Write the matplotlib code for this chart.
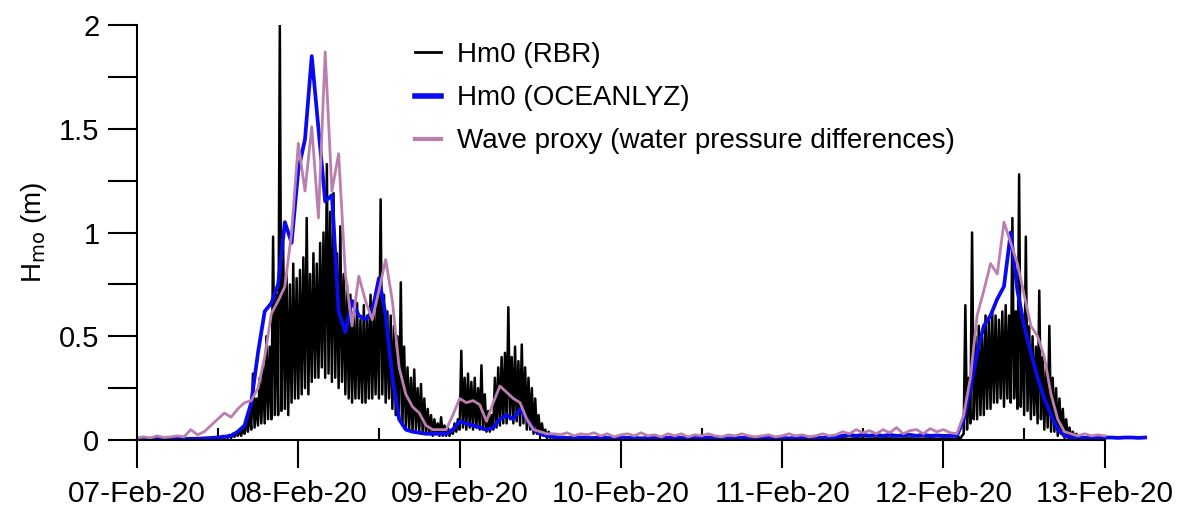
import numpy as np
import pandas as pd
import matplotlib
matplotlib.use('Agg')
import matplotlib.pyplot as plt
import matplotlib.dates as mdates

plt.rcParams['font.family'] = ['Liberation Sans', 'DejaVu Sans']

start = pd.Timestamp('2020-02-07 00:00')

# Hm0 (OCEANLYZ), hourly from 07-Feb 00:00
oceanlyz = [
    0.005, 0.005, 0.004, 0.005, 0.005, 0.006, 0.005, 0.005, 0.006, 0.006,
    0.008, 0.01, 0.012, 0.015, 0.02, 0.04, 0.07, 0.18, 0.42, 0.62,
    0.66, 0.75, 1.05, 0.95, 1.3, 1.45, 1.85, 1.5, 1.15, 1.18,
    0.62, 0.52, 0.67, 0.6, 0.58, 0.62, 0.78, 0.6, 0.3, 0.1,
    0.05, 0.04, 0.035, 0.03, 0.03, 0.03, 0.03, 0.05, 0.09, 0.08,
    0.07, 0.06, 0.05, 0.06, 0.1, 0.12, 0.1, 0.15, 0.1, 0.05,
    0.03, 0.02, 0.015, 0.012, 0.01, 0.01, 0.012, 0.01, 0.01, 0.012,
    0.01, 0.01, 0.012, 0.01, 0.01, 0.008, 0.01, 0.012, 0.01, 0.01,
    0.012, 0.01, 0.008, 0.01, 0.01, 0.012, 0.01, 0.01, 0.008, 0.01,
    0.01, 0.012, 0.01, 0.01, 0.012, 0.01, 0.01, 0.008, 0.01, 0.01,
    0.012, 0.01, 0.01, 0.012, 0.015, 0.02, 0.025, 0.02, 0.025, 0.02,
    0.025, 0.02, 0.025, 0.02, 0.022, 0.025, 0.02, 0.025, 0.02, 0.022,
    0.02, 0.02, 0.02, 0.1, 0.25, 0.42, 0.55, 0.6, 0.68, 0.74,
    1.0, 0.72, 0.55, 0.42, 0.3, 0.2, 0.12, 0.05, 0.02, 0.012,
    0.012, 0.01, 0.012, 0.01, 0.012, 0.012, 0.01, 0.012, 0.012, 0.01, 0.012,
]

# wave proxy (water pressure differences), hourly from 07-Feb 00:00
proxy = [
    0.01, 0.015, 0.01, 0.02, 0.012, 0.015, 0.02, 0.015, 0.05, 0.025,
    0.04, 0.07, 0.1, 0.13, 0.11, 0.15, 0.18, 0.19, 0.25, 0.4,
    0.61, 0.67, 0.74, 1.0, 1.43, 1.2, 1.51, 1.07, 1.87, 1.2,
    1.38, 0.8, 0.55, 0.79, 0.67, 0.58, 0.72, 0.87, 0.67, 0.35,
    0.22, 0.16, 0.13, 0.07, 0.05, 0.05, 0.05, 0.12, 0.2, 0.18,
    0.19, 0.17, 0.09, 0.18, 0.26, 0.23, 0.2, 0.18, 0.1, 0.05,
    0.04, 0.03, 0.03, 0.025, 0.035, 0.02, 0.03, 0.025, 0.035, 0.02,
    0.03, 0.015, 0.025, 0.03, 0.02, 0.035, 0.02, 0.025, 0.015, 0.03,
    0.02, 0.03, 0.015, 0.025, 0.02, 0.03, 0.02, 0.015, 0.025, 0.02,
    0.03, 0.02, 0.015, 0.02, 0.025, 0.015, 0.02, 0.03, 0.02, 0.025,
    0.015, 0.02, 0.03, 0.02, 0.025, 0.04, 0.03, 0.05, 0.035, 0.045,
    0.03, 0.05, 0.035, 0.06, 0.03, 0.045, 0.05, 0.03, 0.055, 0.04,
    0.05, 0.035, 0.03, 0.12, 0.3, 0.6, 0.72, 0.85, 0.8, 1.05,
    0.95, 0.85, 0.7, 0.55, 0.5, 0.4, 0.22, 0.1, 0.04, 0.03,
    0.02, 0.03, 0.02, 0.025, 0.02,
]

# Hm0 (RBR): hourly while calm, 15-min samples during the storms
rbr_calm1 = [0.005, 0.004, 0.006, 0.005, 0.005, 0.006, 0.005, 0.004, 0.006, 0.005, 0.006, 0.005]

rbr_storm1 = [  # 07-Feb 12:00 -> 09-Feb 13:45, 4 per hour
    0.005, 0.015, 0.008, 0.02,  0.01, 0.02, 0.01, 0.025,  0.01, 0.03, 0.015, 0.035,
    0.02, 0.05, 0.02, 0.06,  0.03, 0.1, 0.04, 0.14,  0.05, 0.32, 0.06, 0.2,
    0.07, 0.3, 0.08, 0.36,  0.08, 0.5, 0.1, 0.45,  0.1, 0.98, 0.12, 0.7,
    0.12, 2.0, 0.14, 0.95,  0.15, 0.8, 0.12, 0.75,  0.18, 0.85, 0.2, 0.78,
    0.2, 0.82, 0.22, 0.88,  0.25, 1.07, 0.22, 0.8,  0.28, 0.9, 0.3, 0.85,
    0.3, 0.95, 0.35, 1.0,  0.3, 1.33, 0.32, 1.1,  0.28, 1.19, 0.3, 0.9,
    0.25, 1.03, 0.28, 0.8,  0.22, 0.75, 0.2, 0.7,  0.18, 0.62, 0.2, 0.66,
    0.2, 0.58, 0.18, 0.65,  0.18, 0.6, 0.2, 0.7,  0.2, 0.62, 0.22, 0.75,
    0.2, 1.16, 0.22, 0.7,  0.18, 0.62, 0.2, 0.6,  0.15, 0.55, 0.12, 0.5,
    0.1, 0.76, 0.08, 0.45,  0.06, 0.35, 0.05, 0.3,  0.04, 0.34, 0.05, 0.25,
    0.04, 0.27, 0.04, 0.2,  0.03, 0.15, 0.03, 0.12,  0.02, 0.1, 0.03, 0.08,
    0.02, 0.11, 0.02, 0.07,  0.02, 0.06, 0.02, 0.05,  0.03, 0.08, 0.04, 0.1,
    0.05, 0.43, 0.06, 0.3,  0.05, 0.32, 0.06, 0.28,  0.05, 0.3, 0.06, 0.25,
    0.05, 0.36, 0.05, 0.22,  0.04, 0.14, 0.04, 0.12,  0.05, 0.3, 0.06, 0.35,
    0.07, 0.4, 0.08, 0.42,  0.08, 0.64, 0.1, 0.4,  0.08, 0.45, 0.09, 0.38,
    0.07, 0.46, 0.08, 0.35,  0.05, 0.3, 0.05, 0.25,  0.03, 0.2, 0.03, 0.12,
    0.02, 0.08, 0.02, 0.05,  0.01, 0.04, 0.01, 0.02,
]

rbr_calm2 = [  # 09-Feb 14:00 -> 12-Feb 01:00, hourly
    0.01, 0.008, 0.006, 0.005, 0.006, 0.005, 0.004, 0.005, 0.006, 0.005,
    0.005, 0.004, 0.006, 0.005, 0.005, 0.006, 0.005, 0.004, 0.005, 0.006,
    0.005, 0.005, 0.004, 0.006, 0.005, 0.005, 0.006, 0.004, 0.005, 0.005,
    0.006, 0.005, 0.004, 0.005, 0.006, 0.005, 0.005, 0.004, 0.006, 0.005,
    0.006, 0.008, 0.007, 0.008, 0.006, 0.008, 0.007, 0.006, 0.008, 0.007,
    0.008, 0.006, 0.007, 0.008, 0.006, 0.007, 0.008, 0.006, 0.007, 0.006,
]

rbr_storm3 = [  # 12-Feb 02:00 -> 12-Feb 23:45, 4 per hour
    0.005, 0.015, 0.005, 0.02,  0.03, 0.65, 0.05, 0.3,  0.08, 1.0, 0.1, 0.5,
    0.1, 0.55, 0.12, 0.5,  0.12, 0.6, 0.15, 0.58,  0.15, 0.62, 0.18, 0.6,
    0.18, 0.58, 0.2, 0.62,  0.16, 0.65, 0.2, 0.6,  0.18, 1.07, 0.2, 0.62,
    0.15, 1.28, 0.16, 0.6,  0.12, 0.98, 0.14, 0.55,  0.1, 0.5, 0.12, 0.45,
    0.08, 0.72, 0.1, 0.4,  0.05, 0.35, 0.06, 0.55,  0.04, 0.3, 0.04, 0.25,
    0.02, 0.2, 0.03, 0.15,  0.01, 0.1, 0.01, 0.06,  0.005, 0.04, 0.005, 0.03,
    0.005, 0.02, 0.005, 0.015,  0.005, 0.01, 0.005, 0.01,  0.005, 0.01, 0.005, 0.008,
    0.005, 0.008, 0.005, 0.006,
]

rbr_calm3 = [0.005]  # 13-Feb 00:00

date_labels_fmt = '%d-%b-%y'


def rbr_series():
    parts = [
        (rbr_calm1, start, 'h'),
        (rbr_storm1, start + pd.Timedelta(hours=12), '15min'),
        (rbr_calm2, start + pd.Timedelta(hours=62), 'h'),
        (rbr_storm3, start + pd.Timedelta(hours=122), '15min'),
        (rbr_calm3, start + pd.Timedelta(hours=144), 'h'),
    ]
    times = []
    vals = []
    for v, t0, f in parts:
        times.append(pd.date_range(t0, periods=len(v), freq=f))
        vals.extend(v)
    return times[0].append(times[1:]), np.array(vals)


def main():
    fig = plt.figure(figsize=(11.87, 5.17), dpi=100)
    ax = fig.add_axes([137 / 1187, 77 / 517, 1011 / 1187, 415 / 517])

    t_rbr, v_rbr = rbr_series()
    t_oc = pd.date_range(start, periods=len(oceanlyz), freq='h')
    t_px = pd.date_range(start, periods=len(proxy), freq='h')

    ax.plot(t_rbr, v_rbr, color='black', lw=1.8, label='Hm0 (RBR)')
    ax.plot(t_oc, oceanlyz, color='#0a0af0', lw=2.7, label='Hm0 (OCEANLYZ)')
    ax.plot(t_px, proxy, color='#bb7fae', lw=2.0, label='Wave proxy (water pressure differences)')

    end = start + pd.Timedelta(days=1011 / 161.3)
    ax.set_xlim(start, end)
    ax.set_ylim(0, 2)

    for s in ['top', 'right']:
        ax.spines[s].set_visible(False)
    ax.spines['left'].set_linewidth(1.5)
    ax.spines['bottom'].set_linewidth(1.5)
    ax.spines['bottom'].set_bounds(mdates.date2num(start), mdates.date2num(pd.Timestamp('2020-02-13')))

    ax.set_yticks([0, 0.5, 1, 1.5, 2])
    ax.set_yticklabels(['0', '0.5', '1', '1.5', '2'])
    ax.set_yticks([0.25, 0.75, 1.25, 1.75], minor=True)
    ax.tick_params(axis='y', which='both', direction='out', length=21, width=1.5, labelsize=21, pad=6)

    ax.xaxis.set_major_locator(mdates.DayLocator())
    ax.xaxis.set_major_formatter(mdates.DateFormatter(date_labels_fmt))
    ax.xaxis.set_minor_locator(mdates.HourLocator(byhour=[12]))
    ax.tick_params(axis='x', which='major', direction='out', length=20, width=1.5, labelsize=21.5, pad=9)
    ax.tick_params(axis='x', which='minor', direction='in', length=9, width=1.5)

    ax.set_ylabel('H$_{\\mathrm{mo}}$ (m)', fontsize=20, labelpad=7)

    leg = ax.legend(loc='upper left', bbox_to_anchor=(415 / 1187, 1 - 42 / 517),
                    bbox_transform=fig.transFigure, frameon=False, borderpad=0, borderaxespad=0,
                    fontsize=20, handlelength=0.95, handletextpad=0.55, labelspacing=0.62)
    for h, w in zip(leg.get_lines(), [2, 4, 3]):
        h.set_linewidth(w)

    fig.savefig('out.png', dpi=100)


if __name__ == '__main__':
    main()
